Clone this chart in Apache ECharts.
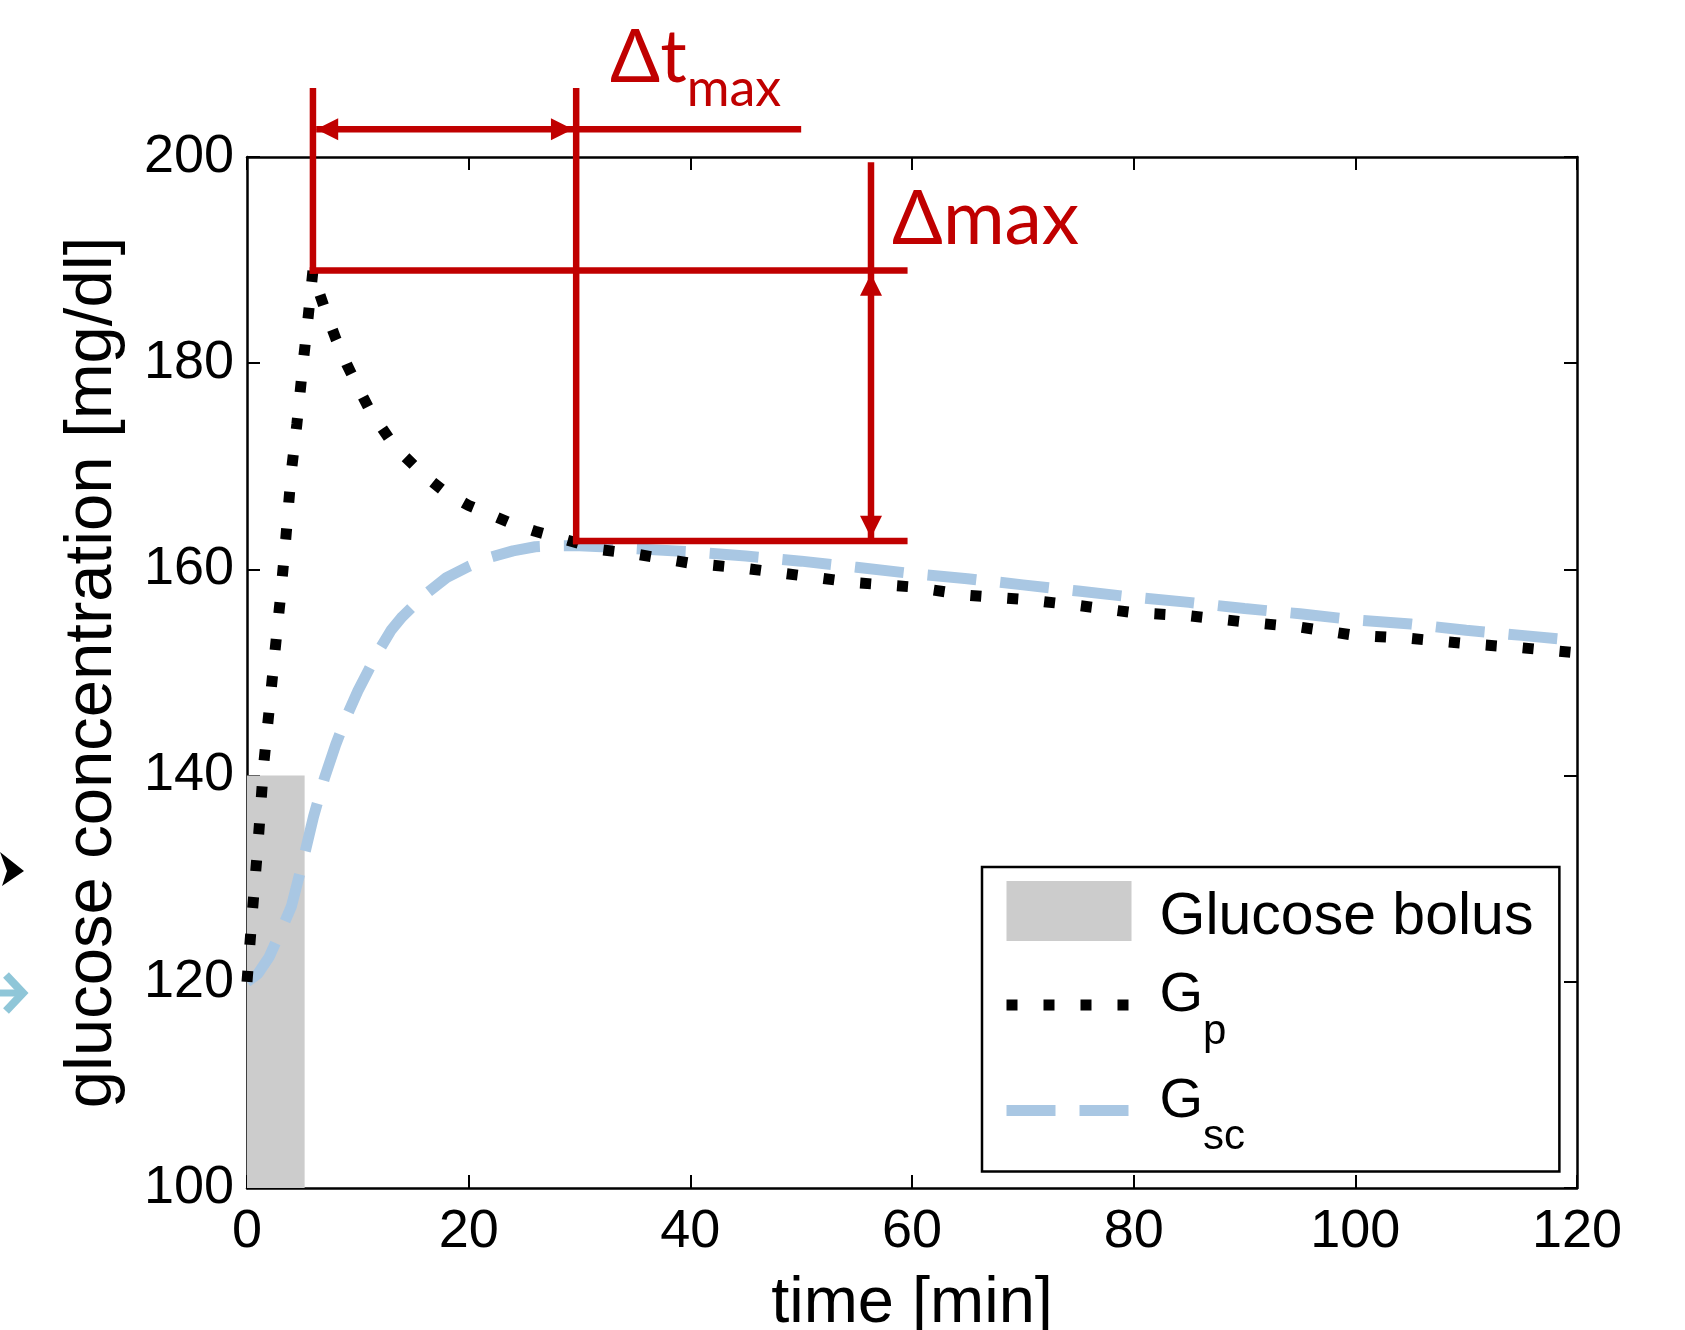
<!DOCTYPE html>
<html>
<head>
<meta charset="utf-8">
<script src="https://cdn.jsdelivr.net/npm/echarts@6/dist/echarts.min.js"></script>
<style>
html,body{margin:0;padding:0;background:#ffffff;}
#chart{width:1685px;height:1330px;}
</style>
</head>
<body>
<div id="chart"></div>
<script>
// ---------------- data ----------------
const seriesNames = ['Glucose bolus', 'Gp', 'Gsc'];

// glucose bolus: [start time, end time, base, top]
const bolus = [[0, 5.2, 100, 140]];

// plasma glucose Gp
const gpTime = [0, 0.5, 1, 1.5, 2, 2.5, 3, 3.5, 4, 4.5, 5, 5.5, 5.95, 6.5, 7, 8, 9, 10, 11, 12, 13, 14, 16, 18, 20, 22, 24, 26, 28, 30, 32, 35, 40, 45, 50, 55, 60, 65, 70, 75, 80, 85, 90, 95, 100, 105, 110, 115, 120];
const gpValue = [120, 127, 133.5, 141, 146.4, 151.8, 157.1, 163, 169.5, 174.1, 179.4, 184.3, 189, 186.9, 185.3, 182.4, 179.9, 177.7, 175.6, 174, 172.4, 171.2, 169.1, 167.4, 166.2, 165.3, 164.4, 163.7, 163.1, 162.5, 161.9, 161.5, 160.6, 160.1, 159.4, 158.7, 158.3, 157.5, 157.1, 156.5, 155.8, 155.5, 154.9, 154.4, 153.6, 153.3, 152.8, 152.4, 151.9];

// subcutaneous glucose Gsc
const gscTime = [0, 1, 2, 3, 4, 5, 6, 7, 8, 9, 10, 11, 12, 13, 14, 16, 18, 20, 22, 24, 26, 28, 30, 32, 35, 40, 45, 50, 55, 60, 65, 70, 75, 80, 85, 90, 95, 100, 105, 110, 115, 120];
const gscValue = [120, 120.8, 122.4, 124.8, 127.3, 131.5, 136, 139.8, 143, 145.8, 148.2, 150.3, 152.3, 154.1, 155.4, 157.5, 159.2, 160.3, 161.2, 161.8, 162.2, 162.3, 162.3, 162.2, 162.0, 161.7, 161.3, 160.8, 160.2, 159.6, 159.1, 158.5, 157.9, 157.3, 156.8, 156.2, 155.7, 155.1, 154.7, 154.1, 153.6, 153.1];

// axes
const xRange = [0, 120, 20];
const yRange = [100, 200, 20];

// annotation (data units): peaks and guide extents
const gpPeak = [5.95, 189];
const gscPeak = [29.7, 162.75];
const guideTop = 206.7;
const dtArrowLevel = 202.7;
const dtLineEnd = 50;
const guideEnd = 59.6;
const dmaxArrowTime = 56.3;
const dmaxArrowTop = 199.5;
const dtLabelAnchor = [32.75, 213.2];
const dmaxLabelAnchor = [58.2, 193.9];

// ---------------- chart ----------------
const FONT = '"Liberation Sans", Arial, Helvetica, sans-serif';
const RED_FONT = 'Lato, "Open Sans", "Noto Sans", sans-serif';
const RED = '#c00000';
const BLUE = '#a9c7e3';
const GRAY = '#cccccc';
const GP_STYLE = {color: '#000000', width: 11, type: [11, 26], cap: 'butt'};
const GSC_STYLE = {color: BLUE, width: 11, type: [49, 24], cap: 'butt'};

const chart = echarts.init(document.getElementById('chart'), null, {renderer: 'canvas'});

function zip(t, v) { return t.map((x, i) => [x, v[i]]); }

const axisCommon = {
  type: 'value',
  axisLine: {show: true, onZero: false, lineStyle: {color: '#000', width: 2.5}},
  axisTick: {show: true, inside: true, length: 13, lineStyle: {color: '#000', width: 2}},
  splitLine: {show: false},
  minorTick: {show: false}
};

const option = {
  animation: false,
  backgroundColor: '#ffffff',
  grid: {left: 247, right: 108, top: 157, bottom: 142, containLabel: false, outerBoundsMode: 'none'},
  xAxis: [
    Object.assign({}, axisCommon, {
      position: 'bottom', min: xRange[0], max: xRange[1], interval: xRange[2],
      name: 'time [min]', nameLocation: 'middle', nameGap: 84, nameMoveOverlap: false,
      nameTextStyle: {fontSize: 65, fontFamily: FONT, color: '#000'},
      axisLabel: {show: true, fontSize: 54, fontFamily: FONT, color: '#000', margin: 17}
    }),
    Object.assign({}, axisCommon, {
      position: 'top', min: xRange[0], max: xRange[1], interval: xRange[2],
      axisLabel: {show: false}
    })
  ],
  yAxis: [
    Object.assign({}, axisCommon, {
      position: 'left', min: yRange[0], max: yRange[1], interval: yRange[2],
      name: 'glucose concentration [mg/dl]', nameLocation: 'middle', nameGap: 121, nameMoveOverlap: false,
      nameTextStyle: {fontSize: 67, fontFamily: FONT, color: '#000'},
      axisLabel: {show: true, fontSize: 54, fontFamily: FONT, color: '#000', margin: 13}
    }),
    Object.assign({}, axisCommon, {
      position: 'right', min: yRange[0], max: yRange[1], interval: yRange[2],
      axisLabel: {show: false}
    })
  ],
  legend: {
    show: true,
    orient: 'vertical',
    left: 982, top: 867,
    padding: [14, 26, 13, 19],
    itemWidth: 125, itemHeight: 60, itemGap: 20.5,
    backgroundColor: '#ffffff',
    borderColor: '#000000', borderWidth: 2.5, borderRadius: 0,
    selectedMode: false,
    data: [
      {name: seriesNames[0], icon: 'rect', itemStyle: {color: GRAY}},
      {name: seriesNames[1], itemStyle: {opacity: 0}, lineStyle: GP_STYLE},
      {name: seriesNames[2], itemStyle: {opacity: 0}, lineStyle: GSC_STYLE}
    ],
    formatter: function (name) {
      if (name === seriesNames[1]) return '{g|G}{s|p}';
      if (name === seriesNames[2]) return '{g|G}{s|sc}';
      return '{t|' + name + '}';
    },
    textStyle: {
      color: '#000', fontFamily: FONT,
      rich: {
        t: {fontSize: 59, fontFamily: FONT, color: '#000', padding: [14, 0, 0, 23]},
        g: {fontSize: 56, fontFamily: FONT, color: '#000', padding: [11, 0, 0, 23], verticalAlign: 'top'},
        s: {fontSize: 42, fontFamily: FONT, color: '#000', padding: [54, 0, 0, 0], verticalAlign: 'top'}
      }
    }
  },
  series: [
    {
      name: seriesNames[0],
      type: 'custom',
      xAxisIndex: 0, yAxisIndex: 0,
      data: bolus,
      encode: {x: [0, 1], y: [2, 3]},
      itemStyle: {color: GRAY},
      renderItem: function (params, api) {
        const p0 = api.coord([api.value(0), api.value(2)]);
        const p1 = api.coord([api.value(1), api.value(3)]);
        return {
          type: 'rect',
          shape: {x: p0[0], y: p1[1], width: p1[0] - p0[0], height: p0[1] - p1[1]},
          style: {fill: GRAY}
        };
      },
      z: 1
    },
    {
      name: seriesNames[1],
      type: 'line',
      xAxisIndex: 0, yAxisIndex: 0,
      data: zip(gpTime, gpValue),
      showSymbol: false, symbol: 'none',
      lineStyle: GP_STYLE,
      itemStyle: {color: '#000000'},
      z: 3
    },
    {
      name: seriesNames[2],
      type: 'line',
      xAxisIndex: 0, yAxisIndex: 0,
      data: zip(gscTime, gscValue),
      showSymbol: false, symbol: 'none',
      lineStyle: GSC_STYLE,
      itemStyle: {color: BLUE},
      z: 2
    }
  ]
};

chart.setOption(option);

// ---------------- annotations via the axes' scales ----------------
function px(t, v) { return chart.convertToPixel({xAxisIndex: 0, yAxisIndex: 0}, [t, v]); }
const LW = 6.5;
function seg(a, b) {
  return {type: 'line', z: 100, shape: {x1: a[0], y1: a[1], x2: b[0], y2: b[1]},
          style: {stroke: RED, lineWidth: LW, lineCap: 'butt'}};
}
// arrow with tip at p, pointing in direction (dx, dy)
function arrow(p, dx, dy) {
  const L = 22, H = 11;
  const bx = p[0] - dx * L, by = p[1] - dy * L;
  const nx = -dy, ny = dx;
  return {type: 'polygon', z: 101,
          shape: {points: [[p[0], p[1]], [bx + nx * H, by + ny * H], [bx - nx * H, by - ny * H]]},
          style: {fill: RED}};
}

const pGpPeak = px(gpPeak[0], gpPeak[1]);
const pGscPeak = px(gscPeak[0], gscPeak[1]);
const pTopL = px(gpPeak[0], guideTop);
const pTopR = px(gscPeak[0], guideTop);
const pGuideEndHi = px(guideEnd, gpPeak[1]);
const pGuideEndLo = px(guideEnd, gscPeak[1]);
const pDtL = px(gpPeak[0], dtArrowLevel);
const pDtR = px(gscPeak[0], dtArrowLevel);
const pDtEnd = px(dtLineEnd, dtArrowLevel);
const pDmTop = px(dmaxArrowTime, dmaxArrowTop);
const pDmHi = px(dmaxArrowTime, gpPeak[1]);
const pDmLo = px(dmaxArrowTime, gscPeak[1]);
const pDtLabel = px(dtLabelAnchor[0], dtLabelAnchor[1]);
const pDmLabel = px(dmaxLabelAnchor[0], dmaxLabelAnchor[1]);

const half = LW / 2;
const graphics = [
  seg(pTopL, [pGpPeak[0], pGpPeak[1] + half]),
  seg(pTopR, [pGscPeak[0], pGscPeak[1] + half]),
  seg([pGpPeak[0] - half, pGpPeak[1]], pGuideEndHi),
  seg([pGscPeak[0] - half, pGscPeak[1]], pGuideEndLo),
  seg([pDtL[0] + half, pDtL[1]], pDtEnd),
  arrow([pDtL[0] + half, pDtL[1]], -1, 0),
  arrow([pDtR[0] - half, pDtR[1]], 1, 0),
  seg(pDmTop, [pDmLo[0], pDmLo[1]]),
  arrow([pDmHi[0], pDmHi[1] + half], 0, -1),
  arrow([pDmLo[0], pDmLo[1] - half], 0, 1),
  {
    type: 'text', z: 102, x: pDtLabel[0], y: pDtLabel[1],
    style: {
      text: '{a|Δt}{b|max}', align: 'left', verticalAlign: 'top',
      rich: {
        a: {fontSize: 74, fontFamily: RED_FONT, fill: RED, verticalAlign: 'top'},
        b: {fontSize: 52, fontFamily: RED_FONT, fill: RED, verticalAlign: 'top', padding: [42, 0, 0, 0]}
      }
    }
  },
  {
    type: 'text', z: 102, x: pDmLabel[0], y: pDmLabel[1],
    style: {text: 'Δmax', align: 'left', verticalAlign: 'middle',
            fontSize: 75, fontFamily: RED_FONT, fill: RED}
  },
  // fragments of neighbouring panel arrows at the left edge
  {type: 'polygon', z: 5, shape: {points: [[0, 852], [24, 871], [2, 886], [7, 871]]}, style: {fill: '#000'}},
  {type: 'polyline', z: 5, shape: {points: [[6, 975], [23, 993], [6, 1011]]}, style: {stroke: '#8fc6d8', lineWidth: 8, fill: null}},
  {type: 'line', z: 5, shape: {x1: 0, y1: 993, x2: 20, y2: 993}, style: {stroke: '#8fc6d8', lineWidth: 7}}
];

chart.setOption({graphic: graphics});
</script>
</body>
</html>
